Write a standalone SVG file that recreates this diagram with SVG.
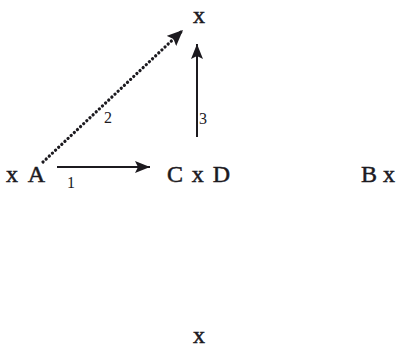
<svg xmlns="http://www.w3.org/2000/svg" width="399" height="347" viewBox="0 0 399 347">
<defs>
<style>
.t{font-family:"Liberation Serif","Times New Roman",serif;font-size:24px;fill:#1c1a1f;stroke:#1c1a1f;stroke-width:0.5}
.l{font-family:"Liberation Serif","Times New Roman",serif;font-size:16px;fill:#1c1a1f}
.c{stroke:#1c1a1f;stroke-width:2;fill:none}
.d{stroke:#1c1a1f;stroke-width:3.2;fill:none;stroke-dasharray:0.1 4.2;stroke-linecap:round}
</style>
<marker id="ah" viewBox="0 0 15 12" refX="15" refY="6" markerWidth="15" markerHeight="12" markerUnits="userSpaceOnUse" orient="auto">
<path d="M0,0 L15,6 L0,12 L3,6 Z" fill="#1c1a1f"/>
</marker>
<marker id="ah2" viewBox="0 0 16 14" refX="16" refY="7" markerWidth="16" markerHeight="14" markerUnits="userSpaceOnUse" orient="auto">
<path d="M0,0 L16,7 L0,14 L3,7 Z" fill="#1c1a1f"/>
</marker>
</defs>
<rect width="399" height="347" fill="#ffffff"/>
<g id="connectors">
<line class="c" x1="57" y1="167" x2="150" y2="167" marker-end="url(#ah)"/>
<line class="d" x1="43" y1="162" x2="183" y2="30" marker-end="url(#ah2)"/>
<line class="c" x1="197" y1="137" x2="197" y2="44" marker-end="url(#ah)"/>
<text class="l" x="67" y="188">1</text>
<text class="l" x="104" y="123">2</text>
<text class="l" x="199" y="124">3</text>
</g>
<g id="node-top"><text class="t" x="193" y="23">x</text></g>
<g id="node-A"><text class="t" x="6" y="182" textLength="39">x A</text></g>
<g id="node-CD"><text class="t" x="167" y="182" textLength="63">C x D</text></g>
<g id="node-B"><text class="t" x="361" y="182" textLength="34">B x</text></g>
<g id="node-bottom"><text class="t" x="193" y="343">x</text></g>
</svg>
